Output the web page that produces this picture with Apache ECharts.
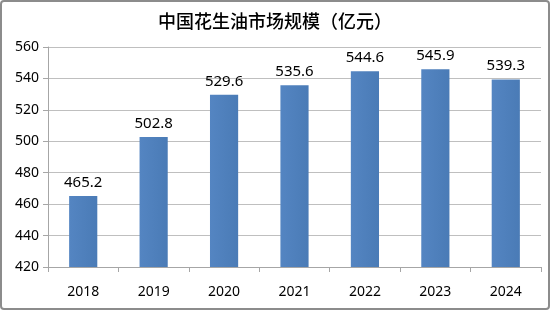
<!DOCTYPE html>
<html><head><meta charset="utf-8">
<script src="https://cdn.jsdelivr.net/npm/echarts@6/dist/echarts.min.js"></script>
<style>html,body{margin:0;padding:0;background:#fff}#c{width:550px;height:310px;box-sizing:border-box;border:2px solid #8c8c8c;border-radius:4px}</style>
</head><body><div id="c"></div>
<script>
const categories = ['2018','2019','2020','2021','2022','2023','2024'];
const values = [465.2, 502.8, 529.6, 535.6, 544.6, 545.9, 539.3];
const yMin = 420, yMax = 560, yStep = 20;
const title = '中国花生油市场规模（亿元）';
const chart = echarts.init(document.getElementById('c'));
chart.setOption({
  animation: false,
  title: {text: title, left: 'center', top: 5, textStyle: {fontFamily: 'Noto Sans CJK SC', fontSize: 18, fontWeight: 500, color: '#000'}},
  grid: {left: 46, right: 7, top: 45, bottom: 41},
  xAxis: {type: 'category', data: categories,
    axisLine: {lineStyle: {color: '#a6a6a6'}},
    axisTick: {show: true, alignWithLabel: false, length: 5, lineStyle: {color: '#a6a6a6'}},
    axisLabel: {color: '#000', fontSize: 14, fontFamily: 'Noto Sans', margin: 18}},
  yAxis: {type: 'value', min: yMin, max: yMax, interval: yStep,
    axisLine: {show: true, lineStyle: {color: '#a6a6a6'}},
    axisTick: {show: true, length: 5, lineStyle: {color: '#a6a6a6'}},
    splitLine: {lineStyle: {color: '#bfbfbf'}},
    axisLabel: {color: '#000', fontSize: 14, fontFamily: 'Noto Sans', margin: 9}},
  series: [{type: 'bar', data: values, barWidth: '40%',
    itemStyle: {color: new echarts.graphic.LinearGradient(0,0,1,0,[{offset:0,color:'#5485c2'},{offset:1,color:'#4a7bb6'}])},
    label: {show: true, position: 'top', distance: 6, color: '#000', fontSize: 15, fontFamily: 'Noto Sans'}}]
});
</script></body></html>
